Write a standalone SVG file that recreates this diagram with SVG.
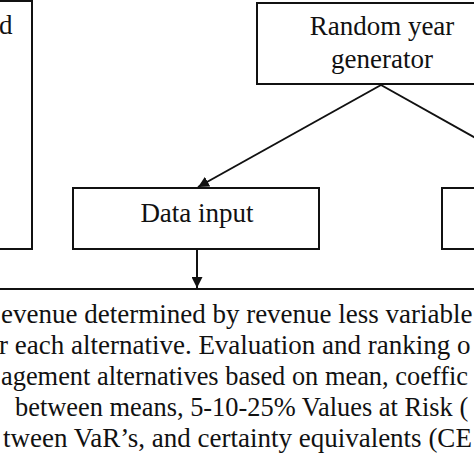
<svg xmlns="http://www.w3.org/2000/svg" width="474" height="474" viewBox="0 0 474 474">
  <defs>
    <style>
      .box { fill: #fff; stroke: #111; stroke-width: 2; }
      .t { font-family: "Liberation Serif", "Times New Roman", serif; font-size: 27px; fill: #111; }
      .s { font-size: 26.4px; }
      .c { text-anchor: middle; }
      .conn { stroke: #111; stroke-width: 2; fill: none; }
    </style>
    <marker id="ah" viewBox="0 0 10 10" refX="10" refY="5" markerWidth="5.5" markerHeight="5.5" orient="auto" markerUnits="strokeWidth">
      <path d="M0,0 L10,5 L0,10 z" fill="#111"/>
    </marker>
  </defs>
  <rect width="474" height="474" fill="#fff"/>

  <g id="left-box">
    <rect class="box" x="-20" y="1" width="52" height="248"/>
    <text class="t" x="-1" y="34">d</text>
  </g>

  <g id="random-year-generator">
    <rect class="box" x="257" y="3" width="250" height="81"/>
    <text class="t c" x="382" y="35">Random year</text>
    <text class="t c" x="382" y="68">generator</text>
  </g>

  <g id="data-input">
    <rect class="box" x="73" y="188" width="246" height="61"/>
    <text class="t c" x="197" y="222">Data input</text>
  </g>

  <g id="right-box">
    <rect class="box" x="442" y="188" width="60" height="61"/>
  </g>

  <g id="output-box">
    <line class="conn" x1="0" y1="289" x2="474" y2="289"/>
    <text class="t" x="1" y="323">evenue determined by revenue less variable</text>
    <text class="t" x="-1" y="354">r each alternative. Evaluation and ranking o</text>
    <text class="t s" x="1" y="385">agement alternatives based on mean, coeffic</text>
    <text class="t s" x="15" y="416">between means, 5-10-25% Values at Risk (</text>
    <text class="t" x="3" y="447">tween VaR’s, and certainty equivalents (CE</text>
  </g>

  <g id="connectors">
    <line class="conn" x1="381" y1="85" x2="198" y2="187" marker-end="url(#ah)"/>
    <line class="conn" x1="381" y1="85" x2="490" y2="146"/>
    <line class="conn" x1="197" y1="249" x2="197" y2="288" marker-end="url(#ah)"/>
  </g>
</svg>
